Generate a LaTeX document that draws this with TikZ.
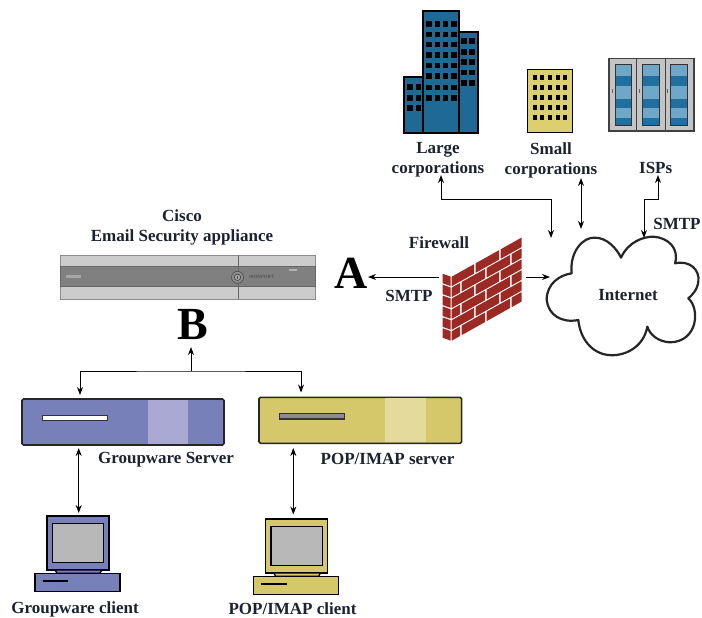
\documentclass[tikz,border=0pt]{standalone}
\usepackage{fontspec}
\setmainfont{Liberation Serif}
\usetikzlibrary{arrows.meta}
\definecolor{inkc}{HTML}{1C2230}
\definecolor{bldblue}{HTML}{1F6A94}
\definecolor{bldyel}{HTML}{DCCF70}
\definecolor{rackgray}{HTML}{C4C4C4}
\definecolor{rackdark}{HTML}{1F6F9F}
\definecolor{racklight}{HTML}{6FA7C9}
\definecolor{purp}{HTML}{7880BA}
\definecolor{purpl}{HTML}{A9A9D3}
\definecolor{yel}{HTML}{D4C86A}
\definecolor{yell}{HTML}{E3DA9C}
\definecolor{brick}{HTML}{9C2A24}
\definecolor{screeng}{HTML}{B8B8B8}
\tikzset{
  x=1pt,y=-1pt,
  lbl/.style={font=\bfseries\fontsize{17}{20}\selectfont,text=inkc,inner sep=0pt,align=center},
  biglbl/.style={font=\bfseries\fontsize{46}{46}\selectfont,text=black,inner sep=0pt},
  link/.style={draw=black,line width=1pt},
  oneway/.style={link,-{Stealth[length=8pt,width=6pt]}},
  twoway/.style={link,{Stealth[length=8pt,width=6pt]}-{Stealth[length=8pt,width=6pt]}},
  outl/.style={draw=black,line width=1.3pt},
  srv/.style={draw=black!85,line width=1.6pt,rounded corners=1.5pt,inner sep=0pt},
  win/.style={fill=black}
}
\newcommand{\pcicon}[2]{%
  \begin{scope}[shift={#2}]
    \filldraw[fill=#1,outl] (0,0) rectangle (62,54);
    \filldraw[fill=screeng,outl] (5.3,7.3) rectangle (56.7,46.7);
    \filldraw[fill=#1,outl] (8,54) -- (54.7,54) -- (53,57.3) -- (10,57.3) -- cycle;
    \filldraw[fill=#1,outl] (-12,57.3) rectangle (73,75.3);
    \draw[black,line width=2pt] (-4.3,64.7) -- (21.3,64.7);
  \end{scope}}
\begin{document}
\begin{tikzpicture}
\useasboundingbox (0,0) rectangle (702,618);
\fill[white] (0,0) rectangle (702,618);

% --- Large building
\filldraw[fill=bldblue,outl] (404,77) rectangle (423,133);
\filldraw[fill=bldblue,outl] (459,32) rectangle (478,133);
\filldraw[fill=bldblue,outl] (423,11) rectangle (459,133);
\foreach \yy in {24,34.3,44.7,55,65.7,76,87.3,98}
  \foreach \xx in {429,437.3,445.7,454}
    \fill[win] (\xx-2.6,\yy-2.7) rectangle (\xx+2.6,\yy+2.7);
\foreach \yy in {41,52,62.3,72.7,83.3}
  \foreach \xx in {464,472}
    \fill[win] (\xx-2.6,\yy-2.8) rectangle (\xx+2.6,\yy+2.8);
\foreach \yy in {87.3,98,108.3}
  \foreach \xx in {410,418.3}
    \fill[win] (\xx-2.6,\yy-2.8) rectangle (\xx+2.6,\yy+2.8);

% --- Small building
\filldraw[fill=bldyel,outl] (527.7,69.3) rectangle (572.3,132.7);
\foreach \yy in {77.7,87.7,97.7,107.7,117.3}
  \foreach \xx in {534.7,542.3,550,557.7,565.3}
    \fill[win] (\xx-2,\yy-2.3) rectangle (\xx+2,\yy+2.3);

% --- ISP racks
\foreach \xa/\xb/\ia/\ib in {609/636.7/615/631.7,636.7/665.7/642.3/659.3,665.7/694/670.3/687.3}{
  \filldraw[fill=rackgray,draw=black!75,line width=1.2pt] (\xa,58.3) rectangle (\xb,131);
  \fill[racklight] (\ia,65) rectangle (\ib,125);
  \fill[rackdark] (\ia,76) rectangle (\ib,86);
  \fill[rackdark] (\ia,99) rectangle (\ib,108.3);
  \fill[rackdark] (\ia,118.3) rectangle (\ib,125);
  \draw[black!80,line width=1pt] (\ia,65) rectangle (\ib,125);
  \draw[black!60,line width=0.7pt] (\ia-2.5,89) -- (\ia-2.5,93);
}

% --- Appliance
\node[draw=black!45,line width=0.8pt,fill=black!20,minimum width=255pt,minimum height=44pt,inner sep=0pt] (appl) at (187.6,277) {};
\filldraw[fill=black!50,draw=black!60,line width=0.8pt] (60,266.7) rectangle (315.3,286.7);
\draw[black!60,line width=1pt] (238.7,255) -- (238.7,299);
\filldraw[fill=black!45,draw=black!70,line width=0.6pt] (237.5,277.3) circle (6pt);
\filldraw[fill=black!35,draw=black!75,line width=0.6pt] (237.5,277.3) circle (3.2pt);
\draw[black!70,line width=0.6pt] (237.5,275.5) -- (237.5,279);
\node[inner sep=0pt,text=black!75,font=\sffamily\fontsize{4.6}{5}\selectfont] (logo) at (261.7,277) {IRONPORT};
\fill[black!35] (66,275) rectangle (81,278);
\fill[black!30] (289,268.5) rectangle (297,270.5);

% --- Firewall
\begin{scope}[cm={1,0.56,0,1,(451.7,276.7)}]
  \foreach \rr/\list in {0/{0/22.5,24/47.5,49/70},1/{0/8.5,10/33.5,35/58.5,60/70},2/{0/22.5,24/47.5,49/70},3/{0/8.5,10/33.5,35/58.5,60/70},4/{0/22.5,24/47.5,49/70},5/{0/8.5,10/33.5,35/58.5,60/70}}{
    \foreach \aa/\bb in \list
      \fill[brick,rounded corners=0.4pt] (\aa,{\rr*10.9}) rectangle (\bb,{\rr*10.9+9.5});
  }
\end{scope}
\begin{scope}[cm={1,-0.35,0,1,(451,276.7)}]
  \foreach \rr in {0,...,5}
    \fill[brick] (-8.3,{\rr*10.9}) rectangle (-0.5,{\rr*10.9+9.5});
\end{scope}

% --- Cloud
\begin{scope}[shift={(540,225)},scale=1/3]
  \draw[draw=black!85,line width=2.2pt,line join=round,fill=white]
    (95,145) .. controls (88,80) and (130,35) .. (165,38)
    .. controls (200,38) and (230,70) .. (243,98)
    .. controls (265,50) and (310,35) .. (340,35)
    .. controls (385,38) and (418,70) .. (405,115)
    .. controls (450,105) and (480,135) .. (475,170)
    .. controls (472,195) and (455,212) .. (445,220)
    .. controls (480,250) and (475,350) .. (390,352)
    .. controls (355,350) and (330,330) .. (322,305)
    .. controls (310,370) and (250,395) .. (205,390)
    .. controls (155,385) and (120,340) .. (115,285)
    .. controls (65,295) and (25,270) .. (20,225)
    .. controls (20,175) and (60,150) .. (95,145) -- cycle;
\end{scope}

% --- Servers
\node[srv,fill=purp,minimum width=202pt,minimum height=46pt] (gsrv) at (123,422) {};
\fill[purpl] (147.7,400) rectangle (188.3,444);
\filldraw[fill=white,draw=black!80,line width=1.1pt] (42.7,415.7) rectangle (107.7,420.3);
\node[srv,fill=yel,minimum width=202.7pt,minimum height=46pt] (psrv) at (360.3,420.3) {};
\fill[yell] (385,398.3) rectangle (426,442.3);
\filldraw[fill=black!45,draw=black!80,line width=1.1pt] (279.3,413.3) rectangle (344.3,419);

% --- Computers
\pcicon{purp}{(47,516)}
\pcicon{yel}{(265.7,519)}

% --- Labels
\node[lbl] (lcisco) at (182,227) {Cisco\\Email Security appliance};
\node[biglbl,anchor=base] (lA) at (351,288) {A};
\node[biglbl,anchor=base] (lB) at (192.5,339) {B};
\node[lbl] (llarge) at (438,160) {Large\\corporations};
\node[lbl] (lsmall) at (551,160) {Small\\corporations};
\node[lbl] (lisp) at (655.7,168) {ISPs};
\node[lbl] (lsmtpr) at (677,224) {SMTP};
\node[lbl] (lfw) at (439,243) {Firewall};
\node[lbl] (lsmtpl) at (409,296) {SMTP};
\node[lbl] (linet) at (628,295) {Internet};
\node[lbl] (lgs) at (166,460) {Groupware Server};
\node[lbl] (lps) at (387.5,459.3) {POP/IMAP server};
\node[lbl] (lgc) at (75,609) {Groupware client};
\node[lbl] (lpc) at (292.5,609) {POP/IMAP client};

% --- Connector ends
\coordinate (tLarge) at (441,175);
\coordinate (tSmall) at (581,178);
\coordinate (tIsp) at (658,175);
\coordinate (cJoin) at (551,238);
\coordinate (cMid) at (581,229);
\coordinate (cIsp) at (644,238);
\coordinate (fwL) at (439,277);
\coordinate (fwR) at (526,277);
\coordinate (cloudIn) at (550,277);
\coordinate (aTip) at (368,277);
\coordinate (bTip) at (191,347);
\coordinate (bus) at (191,371);
\coordinate (gTop) at (80,395);
\coordinate (pTop) at (301,392.5);
\coordinate (gsBot) at (78.7,448);
\coordinate (gcTop) at (78.7,513);
\coordinate (psBot) at (293.3,448);
\coordinate (pcTop) at (293.3,514.5);
\coordinate (hLarge) at (551,199);
\coordinate (hIsp) at (644,199);

% --- Connectors
\draw[twoway] (tLarge) |- (hLarge) -- (cJoin);
\draw[twoway] (tSmall) -- (cMid);
\draw[twoway] (tIsp) |- (hIsp) -- (cIsp);
\draw[oneway] (fwL) -- (aTip);
\draw[oneway] (fwR) -- (cloudIn);
\draw[oneway] (bus) -- (bTip);
\draw[twoway] (gTop) |- (bus) -| (pTop);
\draw[twoway] (gsBot) -- (gcTop);
\draw[twoway] (psBot) -- (pcTop);
\end{tikzpicture}
\end{document}
